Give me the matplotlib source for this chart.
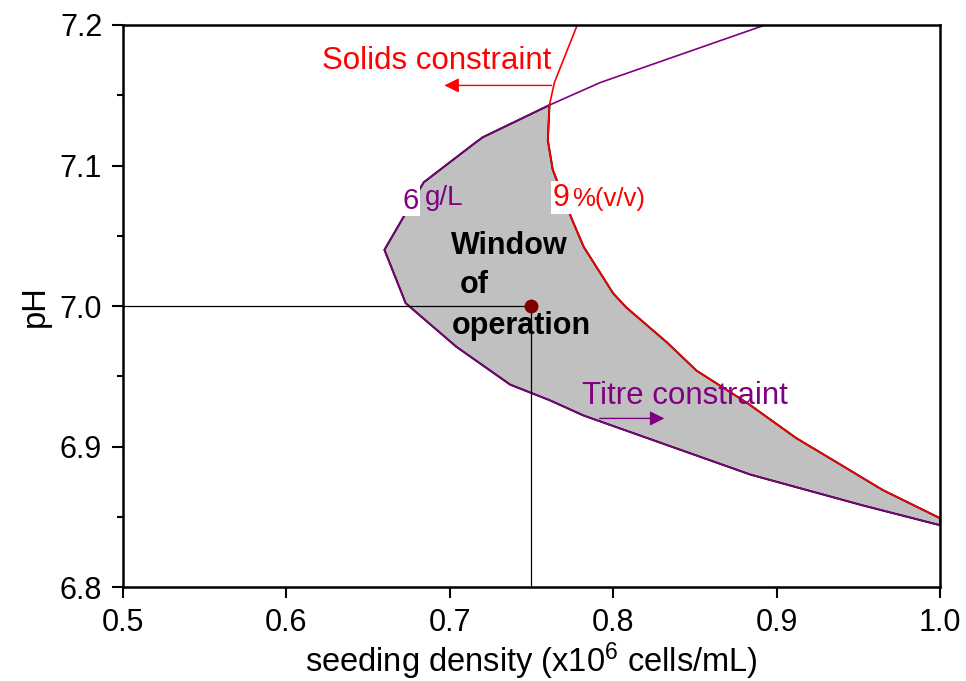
import numpy as np
import matplotlib.pyplot as plt

plt.rcParams['font.family'] = ['Liberation Sans', 'DejaVu Sans']
plt.rcParams['mathtext.fontset'] = 'custom'
plt.rcParams['mathtext.rm'] = 'Liberation Sans'
plt.rcParams['mathtext.it'] = 'Liberation Sans:italic'

# titre constraint (6 g/L) boundary, traced from top to the right edge
titre_x = [0.893, 0.792, 0.761, 0.720, 0.712, 0.684, 0.660, 0.673, 0.704, 0.737, 0.761, 0.782, 0.884, 0.953, 1.000]
titre_y = [7.200, 7.159, 7.143, 7.120, 7.113, 7.088, 7.040, 7.002, 6.971, 6.944, 6.933, 6.922, 6.880, 6.858, 6.844]

# solids constraint (9 %v/v) boundary
solids_x = [0.778, 0.764, 0.761, 0.760, 0.763, 0.775, 0.782, 0.800, 0.808, 0.833, 0.851, 0.882, 0.912, 0.935, 0.965, 1.000]
solids_y = [7.200, 7.159, 7.143, 7.118, 7.097, 7.061, 7.042, 7.009, 6.999, 6.974, 6.954, 6.931, 6.906, 6.890, 6.869, 6.849]

# the two curves cross at index 2
cross = 2

# chosen operating point
op_x = 0.75
op_y = 7.0

fig = plt.figure(figsize=(9.66, 6.81), dpi=100)
ax = fig.add_axes([0.1273, 0.138, 0.8458, 0.8253])

# window of operation = region between the two boundaries
win_x = np.concatenate([titre_x[cross:], solids_x[cross:][::-1]])
win_y = np.concatenate([titre_y[cross:], solids_y[cross:][::-1]])
ax.fill(win_x, win_y, facecolor='#c0c0c0', edgecolor='black', lw=1.4, zorder=1)

ax.plot(titre_x, titre_y, color='#800080', lw=1.2, zorder=2)
ax.plot(solids_x, solids_y, color='red', lw=1.2, zorder=2)

# guide lines to the operating point
ax.plot([0.5, op_x], [op_y, op_y], color='black', lw=0.9, zorder=3)
ax.plot([op_x, op_x], [6.8, op_y], color='black', lw=0.9, zorder=3)
ax.plot(op_x, op_y, 'o', color='#800000', markersize=9, zorder=4)

# constraint labels and arrows
ax.text(0.622, 7.169, 'Solids constraint', color='red', fontsize=22.5, va='baseline', ha='left')
ax.annotate('', xy=(0.695, 7.157), xytext=(0.764, 7.157),
            arrowprops=dict(arrowstyle='-|>', color='red', lw=1, mutation_scale=22))
ax.text(0.781, 6.930, 'Titre constraint', color='#800080', fontsize=22.5, va='baseline', ha='left')
ax.annotate('', xy=(0.833, 6.920), xytext=(0.790, 6.920),
            arrowprops=dict(arrowstyle='-|>', color='#800080', lw=1, mutation_scale=22))

ax.text(0.676, 7.075, '6', color='#800080', fontsize=21, ha='center', va='center',
        bbox=dict(facecolor='white', edgecolor='none', pad=1), zorder=5)
ax.text(0.685, 7.077, 'g/L', color='#800080', fontsize=20, ha='left', va='center', zorder=5)
ax.text(0.768, 7.077, '9', color='red', fontsize=22, ha='center', va='center',
        bbox=dict(facecolor='white', edgecolor='none', pad=1), zorder=5)
ax.text(0.775, 7.076, '%(v/v)', color='red', fontsize=18.5, ha='left', va='center', zorder=5)

ax.text(0.701, 7.043, 'Window', fontsize=22, fontweight='bold', ha='left', va='center', zorder=5)
ax.text(0.706, 7.015, 'of', fontsize=22, fontweight='bold', ha='left', va='center', zorder=5)
ax.text(0.701, 6.986, 'operation', fontsize=22, fontweight='bold', ha='left', va='center', zorder=5)

ax.set_xlim(0.5, 1.0)
ax.set_ylim(6.8, 7.2)
ax.set_xticks(np.arange(0.5, 1.01, 0.1))
ax.set_yticks(np.arange(6.8, 7.21, 0.1))
ax.set_yticks(np.arange(6.85, 7.2, 0.1), minor=True)
ax.xaxis.set_major_formatter(plt.FormatStrFormatter('%.1f'))
ax.yaxis.set_major_formatter(plt.FormatStrFormatter('%.1f'))
ax.tick_params(axis='both', which='major', direction='out', length=8, width=1.5, labelsize=22, pad=7)
ax.tick_params(axis='y', which='minor', direction='out', length=4, width=1.5)
for s in ax.spines.values():
    s.set_linewidth(1.8)

ax.set_xlabel(r'seeding density (x10$^6$ cells/mL)', fontsize=23.5, labelpad=2)
ax.set_ylabel('pH', fontsize=23.5, labelpad=6)

fig.savefig('out.png', dpi=100)
